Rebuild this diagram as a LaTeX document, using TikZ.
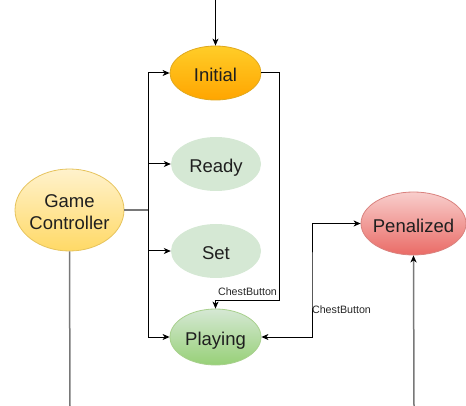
\documentclass[tikz,border=0pt]{standalone}
\usepackage{fontspec}
\setmainfont{Liberation Sans}
\usetikzlibrary{shapes.geometric,arrows.meta}
\definecolor{initTop}{HTML}{FFCD28}
\definecolor{initBot}{HTML}{FFA500}
\definecolor{initLine}{HTML}{E0A81E}
\definecolor{paleGreen}{HTML}{D5E8D4}
\definecolor{playBot}{HTML}{97D077}
\definecolor{playLine}{HTML}{A8D08D}
\definecolor{gcTop}{HTML}{FFF2CC}
\definecolor{gcBot}{HTML}{FFD966}
\definecolor{gcLine}{HTML}{E6C35C}
\definecolor{penTop}{HTML}{F8CECC}
\definecolor{penBot}{HTML}{EA6B66}
\definecolor{penLine}{HTML}{D9827E}
\definecolor{wire}{HTML}{787878}
\begin{document}
\begin{tikzpicture}[x=1pt,y=-1pt,
  state/.style={ellipse, inner sep=0pt, align=center, text=black!88,
    font=\fontsize{18.5}{22}\selectfont, text height=17.3pt, text depth=0pt},
  tip/.style={-{Stealth[length=7pt,width=6pt,inset=2pt,color=black]}},
  both/.style={{Stealth[length=7pt,width=6pt,inset=2pt]}-{Stealth[length=7pt,width=6pt,inset=2pt]}},
  link/.style={draw=black, line width=1pt},
  greylink/.style={draw=wire, line width=1.5pt},
  lbl/.style={font=\fontsize{10.7}{12}\selectfont, text=black!85, inner sep=0pt}]
\useasboundingbox (0,0) rectangle (466,406);

% states
\node[state, minimum width=91pt, minimum height=54pt, top color=initTop,
  bottom color=initBot, draw=initLine, line width=0.8pt] (init) at (215.5,73) {Initial};
\node[state, minimum width=90pt, minimum height=54pt, fill=paleGreen] (ready) at (216,164) {Ready};
\node[state, minimum width=90pt, minimum height=54pt, fill=paleGreen] (set) at (216,251) {Set};
\node[state, minimum width=91pt, minimum height=56pt, top color=paleGreen,
  bottom color=playBot, draw=playLine, line width=0.8pt] (play) at (215.5,337) {Playing};
\node[state, minimum width=109pt, minimum height=82pt, top color=gcTop,
  bottom color=gcBot, draw=gcLine, line width=0.8pt, text height=40pt,
  text depth=0pt, inner xsep=-6pt] (gc) at (69.5,210) {Game\\Controller};
\node[state, minimum width=105pt, minimum height=63pt, top color=penTop,
  bottom color=penBot, draw=penLine, line width=0.8pt, inner xsep=-6pt] (pen) at (413.5,223.5) {Penalized};

% free ends and bends
\coordinate (entry) at (215.5,0);
\coordinate (bus) at (148,210);
\coordinate (gcout) at (70,406);
\coordinate (penin) at (414,406);
\coordinate (bendA) at (279,300);
\coordinate (bendB) at (312,280);

% entry arrow
\draw[link, tip] (entry) -- (init.north);

% game controller fan-out
\draw[greylink] (gc.east) -- (bus);
\draw[link, tip] (bus) |- (init.west);
\draw[link, tip] (bus) |- (ready.west);
\draw[link, tip] (bus) |- (set.west);
\draw[link, tip] (bus) |- (play.west);
\draw[greylink] (gc.south) -- (gcout);

% chest button transitions
\draw[link, tip] (init.east) -| (bendA) -| (play.north);
\node[lbl] (lblA) at (247.5,292) {ChestButton};
\draw[link, both] (play.east) -| (bendB) |- (pen.west);
\node[lbl] (lblB) at (341.5,310) {ChestButton};

% penalized input
\draw[greylink, tip] (penin) -- (pen.south);
\end{tikzpicture}
\end{document}
